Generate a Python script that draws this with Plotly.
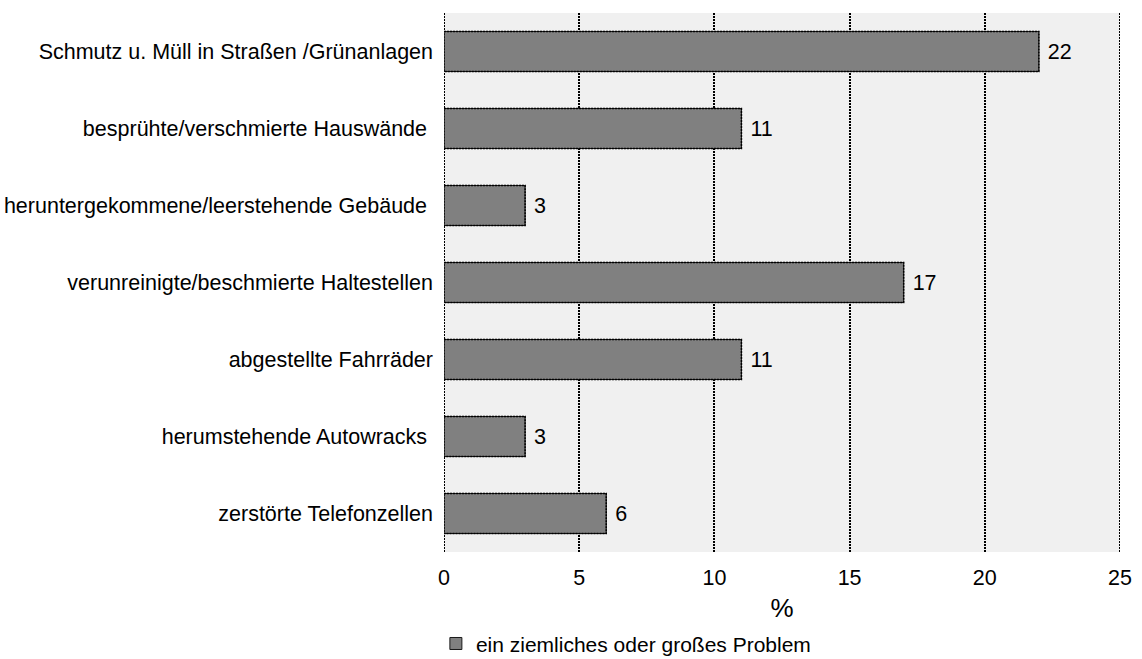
import plotly.graph_objects as go

categories = [
    "Schmutz u. Müll in Straßen /Grünanlagen",
    "besprühte/verschmierte Hauswände\u00a0",
    "heruntergekommene/leerstehende Gebäude\u00a0",
    "verunreinigte/beschmierte Haltestellen",
    "abgestellte Fahrräder",
    "herumstehende Autowracks\u00a0",
    "zerstörte Telefonzellen",
]
values = [22, 11, 3, 17, 11, 3, 6]
series_name = "ein ziemliches oder großes Problem"
x_ticks = [0, 5, 10, 15, 20, 25]

FONT = 21.5
positions = list(range(len(categories)))
half = 0.26

fig = go.Figure()
fig.add_trace(go.Bar(
    y=positions,
    x=values,
    orientation="h",
    name=series_name,
    width=2 * half,
    marker=dict(color="#808080", line=dict(color="#1a1a1a", width=1)),
    text=["\u00a0" + str(v) for v in values],
    textposition="outside",
    textfont=dict(size=FONT, color="#000000"),
    cliponaxis=False,
    showlegend=True,
))

# dotted outline around each bar
ox, oy = [], []
for p, v in zip(positions, values):
    ox += [0, v, v, 0, 0, None]
    oy += [p - half, p - half, p + half, p + half, p - half, None]
fig.add_trace(go.Scatter(
    x=ox, y=oy, mode="lines",
    line=dict(color="#000000", width=1.5, dash="2px,1px"),
    hoverinfo="skip", showlegend=False,
))

# dotted frame lines at both ends of the value axis
for xv in (x_ticks[0], x_ticks[-1]):
    fig.add_shape(
        type="line", xref="x", yref="paper",
        x0=xv, x1=xv, y0=0, y1=1,
        line=dict(color="#000000", width=2, dash="2px,1px"),
        layer="below",
    )

fig.update_layout(
    width=1142, height=659,
    margin=dict(l=444, r=22, t=13, b=107, autoexpand=False),
    paper_bgcolor="#ffffff",
    plot_bgcolor="#f0f0f0",
    font=dict(family="Liberation Sans, Arial, sans-serif", size=FONT, color="#000000"),
    bargap=0.48,
    legend=dict(
        orientation="h",
        xref="paper", x=-0.012, xanchor="left",
        yref="container", y=0.023, yanchor="middle",
        font=dict(size=21),
        itemwidth=30,
    ),
)
fig.update_xaxes(
    range=[0, 25],
    tickvals=x_ticks,
    ticktext=[str(t) for t in x_ticks],
    showgrid=True,
    gridcolor="#000000",
    gridwidth=2,
    griddash="2px,1px",
    zeroline=False,
    showline=False,
    ticks="",
    ticklen=0,
    ticklabelstandoff=10,
    automargin=False,
    title=dict(text="%", standoff=11),
    tickfont=dict(size=FONT),
)
fig.update_yaxes(
    range=[6.5, -0.5],
    tickvals=positions,
    ticktext=categories,
    showgrid=False,
    zeroline=False,
    showline=False,
    ticks="",
    ticklabelstandoff=10,
    automargin=False,
    tickfont=dict(size=FONT),
)

fig.write_html("out.html")
